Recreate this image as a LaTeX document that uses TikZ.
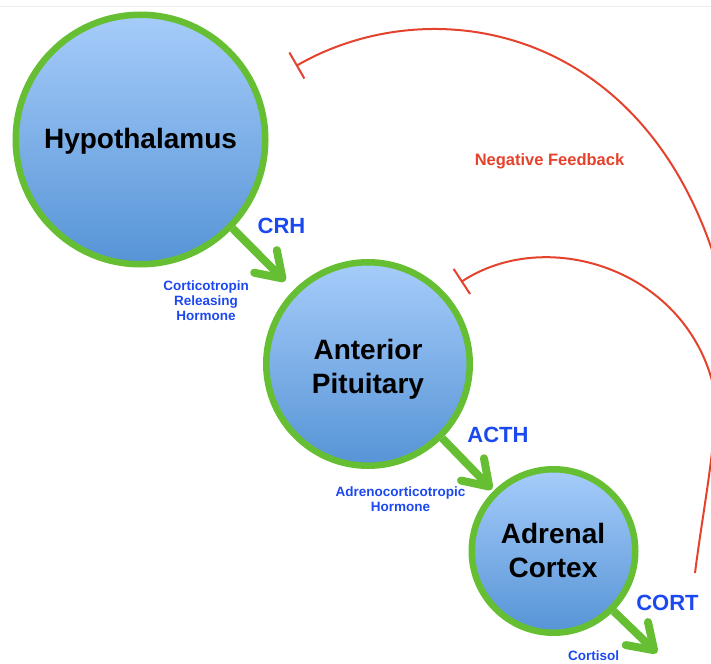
\documentclass[tikz,border=0pt]{standalone}
\usepackage{fontspec}
\setmainfont{Liberation Sans}
\usetikzlibrary{arrows.meta,shadows}
\definecolor{ringgreen}{RGB}{102,190,51}
\definecolor{topblue}{RGB}{166,204,250}
\definecolor{botblue}{RGB}{86,148,214}
\definecolor{lblblue}{RGB}{28,72,240}
\definecolor{fbred}{RGB}{228,66,44}
\begin{document}
\begin{tikzpicture}[x=1pt,y=-1pt,
  organ/.style={circle, draw=ringgreen, line width=6.5pt, top color=topblue, bottom color=botblue, inner sep=0pt,
    drop shadow={opacity=0.18, shadow xshift=1.5pt, shadow yshift=-2pt}},
  organtext/.style={font=\bfseries\fontsize{28}{34}\selectfont, align=center, text=black, inner sep=0pt},
  garrow/.style={draw=ringgreen, line width=8pt, -{Straight Barb[length=24pt,width=32pt,round]}},
  hlabel/.style={text=lblblue, font=\bfseries\fontsize{22}{26}\selectfont, inner sep=0pt},
  slabel/.style={text=lblblue, font=\bfseries\fontsize{13.5}{15}\selectfont, align=center, inner sep=0pt},
  fb/.style={draw=fbred, line width=2pt, {Bar[width=30pt,line width=2pt]}-}
]
\useasboundingbox (0,0) rectangle (711,663);
\draw[gray!15, line width=1pt] (0,7) -- (711,7);

% feedback arcs
\coordinate (fbA) at (296,66);
\coordinate (fbB) at (461,282);
\coordinate (cortfb) at (695,573);
\begin{scope}
  \clip (0,0) rectangle (711,663);
  \draw[fb] (fbA) .. controls (426,-9) and (632,21) .. (711,247)
                  .. controls (744,341) and (750,450) .. (735,560);
  \draw[fb] (fbB) .. controls (545,227) and (678,267) .. (711,377)
                  .. controls (722.6,415) and (705,494) .. (cortfb);
\end{scope}

% organs
\node[organ, minimum size=249.5pt] (hyp) at (140.5,139.5) {};
\node[organ, minimum size=203.5pt] (pit) at (368,364) {};
\node[organ, minimum size=163.5pt] (adr) at (553.5,551) {};

\node[organtext] (hyptxt) at (140.5,141) {Hypothalamus};
\node[organtext] (pittxt) at (368,369) {Anterior\\Pituitary};
\node[organtext] (adrtxt) at (553,550) {Adrenal\\Cortex};

% hormone arrows
\coordinate (cortend) at (657,653);
\draw[garrow, shorten >=12pt] (hyp.-44) -- (pit.135);
\draw[garrow, shorten >=2pt] (pit.-45) -- (adr.135);
\draw[garrow] (adr.-45) -- (cortend);

% labels
\node[hlabel] (crh) at (281.5,225.5) {CRH};
\node[hlabel] (acth) at (498,435) {ACTH};
\node[hlabel] (cort) at (667.5,603) {CORT};
\node[slabel] (crhfull) at (206,301) {Corticotropin\\Releasing\\Hormone};
\node[slabel] (acthfull) at (400.5,499.5) {Adrenocorticotropic\\Hormone};
\node[slabel] (cortfull) at (593.5,655.5) {Cortisol};
\node[text=fbred, font=\bfseries\fontsize{16.5}{20}\selectfont, inner sep=0pt] (fbtxt) at (549.5,161) {Negative Feedback};
\end{tikzpicture}
\end{document}
